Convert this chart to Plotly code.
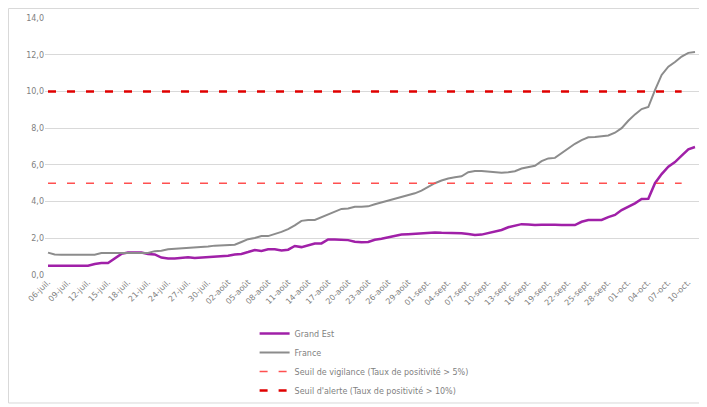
import plotly.graph_objects as go

# Day labels 06-juil. -> 11-oct.
months = [("juil.", 6, 31), ("août", 1, 31), ("sept.", 1, 30), ("oct.", 1, 11)]
dates = []
for name, start, end in months:
    for d in range(start, end + 1):
        dates.append(f"{d:02d}-{name}")

grand_est = [0.5, 0.5, 0.5, 0.5, 0.5, 0.5, 0.5, 0.6, 0.65, 0.65,
             0.9, 1.15, 1.22, 1.22, 1.22, 1.15, 1.12, 0.95, 0.9, 0.9,
             0.95, 0.97, 0.93, 0.95, 0.97, 1.0, 1.02, 1.05, 1.12, 1.15,
             1.25, 1.36, 1.31, 1.40, 1.40, 1.33, 1.38, 1.58, 1.52, 1.62,
             1.72, 1.72, 1.94, 1.94, 1.94, 1.9, 1.81, 1.78, 1.8, 1.92,
             1.98, 2.05, 2.15, 2.2, 2.22, 2.24, 2.27, 2.32, 2.32, 2.3,
             2.3, 2.3, 2.28, 2.23, 2.18, 2.2, 2.28, 2.35, 2.45, 2.6,
             2.7, 2.77, 2.75, 2.72, 2.74, 2.76, 2.74, 2.73, 2.72, 2.72,
             2.9, 3.0, 3.0, 3.0, 3.15, 3.27, 3.54, 3.7, 3.9, 4.14,
             4.15, 5.0, 5.5, 5.9, 6.15, 6.5, 6.85, 6.97]

france = [1.22, 1.12, 1.1, 1.1, 1.1, 1.1, 1.1, 1.1, 1.2, 1.2,
          1.2, 1.2, 1.2, 1.2, 1.2, 1.2, 1.3, 1.32, 1.4, 1.42,
          1.48, 1.5, 1.52, 1.54, 1.55, 1.6, 1.62, 1.62, 1.65, 1.8,
          1.95, 2.02, 2.12, 2.12, 2.22, 2.35, 2.5, 2.7, 2.95, 3.0,
          3.0, 3.15, 3.32, 3.45, 3.6, 3.62, 3.72, 3.72, 3.74, 3.85,
          3.95, 4.05, 4.15, 4.25, 4.36, 4.45, 4.6, 4.8, 5.0, 5.15,
          5.26, 5.32, 5.38, 5.6, 5.66, 5.66, 5.64, 5.58, 5.57, 5.6,
          5.65, 5.8, 5.88, 5.95, 6.2, 6.35, 6.38, 6.65, 6.9, 7.15,
          7.35, 7.5, 7.52, 7.55, 7.6, 7.75, 8.0, 8.4, 8.75, 9.04,
          9.15, 10.07, 10.9, 11.35, 11.6, 11.9, 12.1, 12.15]

seuil_vigilance = 5.0
seuil_alerte = 10.0
threshold_last_day = "09-oct."

y_ticks = [0, 2, 4, 6, 8, 10, 12, 14]

font = "DejaVu Sans"
txt = "#7F7F7F"
fig = go.Figure()
fig.add_trace(go.Scatter(x=dates, y=grand_est, mode="lines", name="Grand Est",
                         line=dict(color="#A020A8", width=2.5)))
fig.add_trace(go.Scatter(x=dates, y=france, mode="lines", name="France",
                         line=dict(color="#8C8C8C", width=2)))
fig.add_trace(go.Scatter(x=[dates[0], threshold_last_day], y=[seuil_vigilance, seuil_vigilance],
                         mode="lines", name="Seuil de vigilance (Taux de positivité > 5%)",
                         line=dict(color="#FF5050", width=1.6, dash="8px,11px")))
fig.add_trace(go.Scatter(x=[dates[0], threshold_last_day], y=[seuil_alerte, seuil_alerte],
                         mode="lines", name="Seuil d'alerte (Taux de positivité > 10%)",
                         line=dict(color="#E00000", width=2.5, dash="8px,11px")))

fig.update_layout(
    width=699, height=399,
    margin=dict(l=37, r=7, t=10, b=132, autoexpand=False),
    paper_bgcolor="white", plot_bgcolor="white",
    separators=",.",
    font=dict(family=font, size=8, color=txt),
    showlegend=True,
    legend=dict(orientation="v", x=0.32, y=-0.171, xanchor="left", yanchor="top",
                font=dict(family=font, size=8, color=txt),
                itemwidth=30, tracegroupgap=0, bgcolor="rgba(0,0,0,0)"),
    shapes=[dict(type="rect", xref="paper", yref="paper",
                 x0=-0.0557, x1=1.0046, y0=-0.498, y1=1.037,
                 line=dict(color="#D9D9D9", width=1), layer="below")],
)
fig.update_xaxes(type="category", range=[-0.45, 97.75], automargin=False,
                 tickmode="array", tickvals=dates[::3], ticktext=dates[::3],
                 tickangle=-45, showgrid=False, showline=False, ticks="",
                 tickfont=dict(family=font, size=8, color=txt))
fig.update_yaxes(range=[0, 14], tickvals=y_ticks, tickformat=".1f", automargin=False,
                 showgrid=True, gridcolor="#D9D9D9", gridwidth=1,
                 zeroline=False, showline=False, ticks="",
                 tickfont=dict(family=font, size=8, color=txt))

fig.write_html("out.html")
